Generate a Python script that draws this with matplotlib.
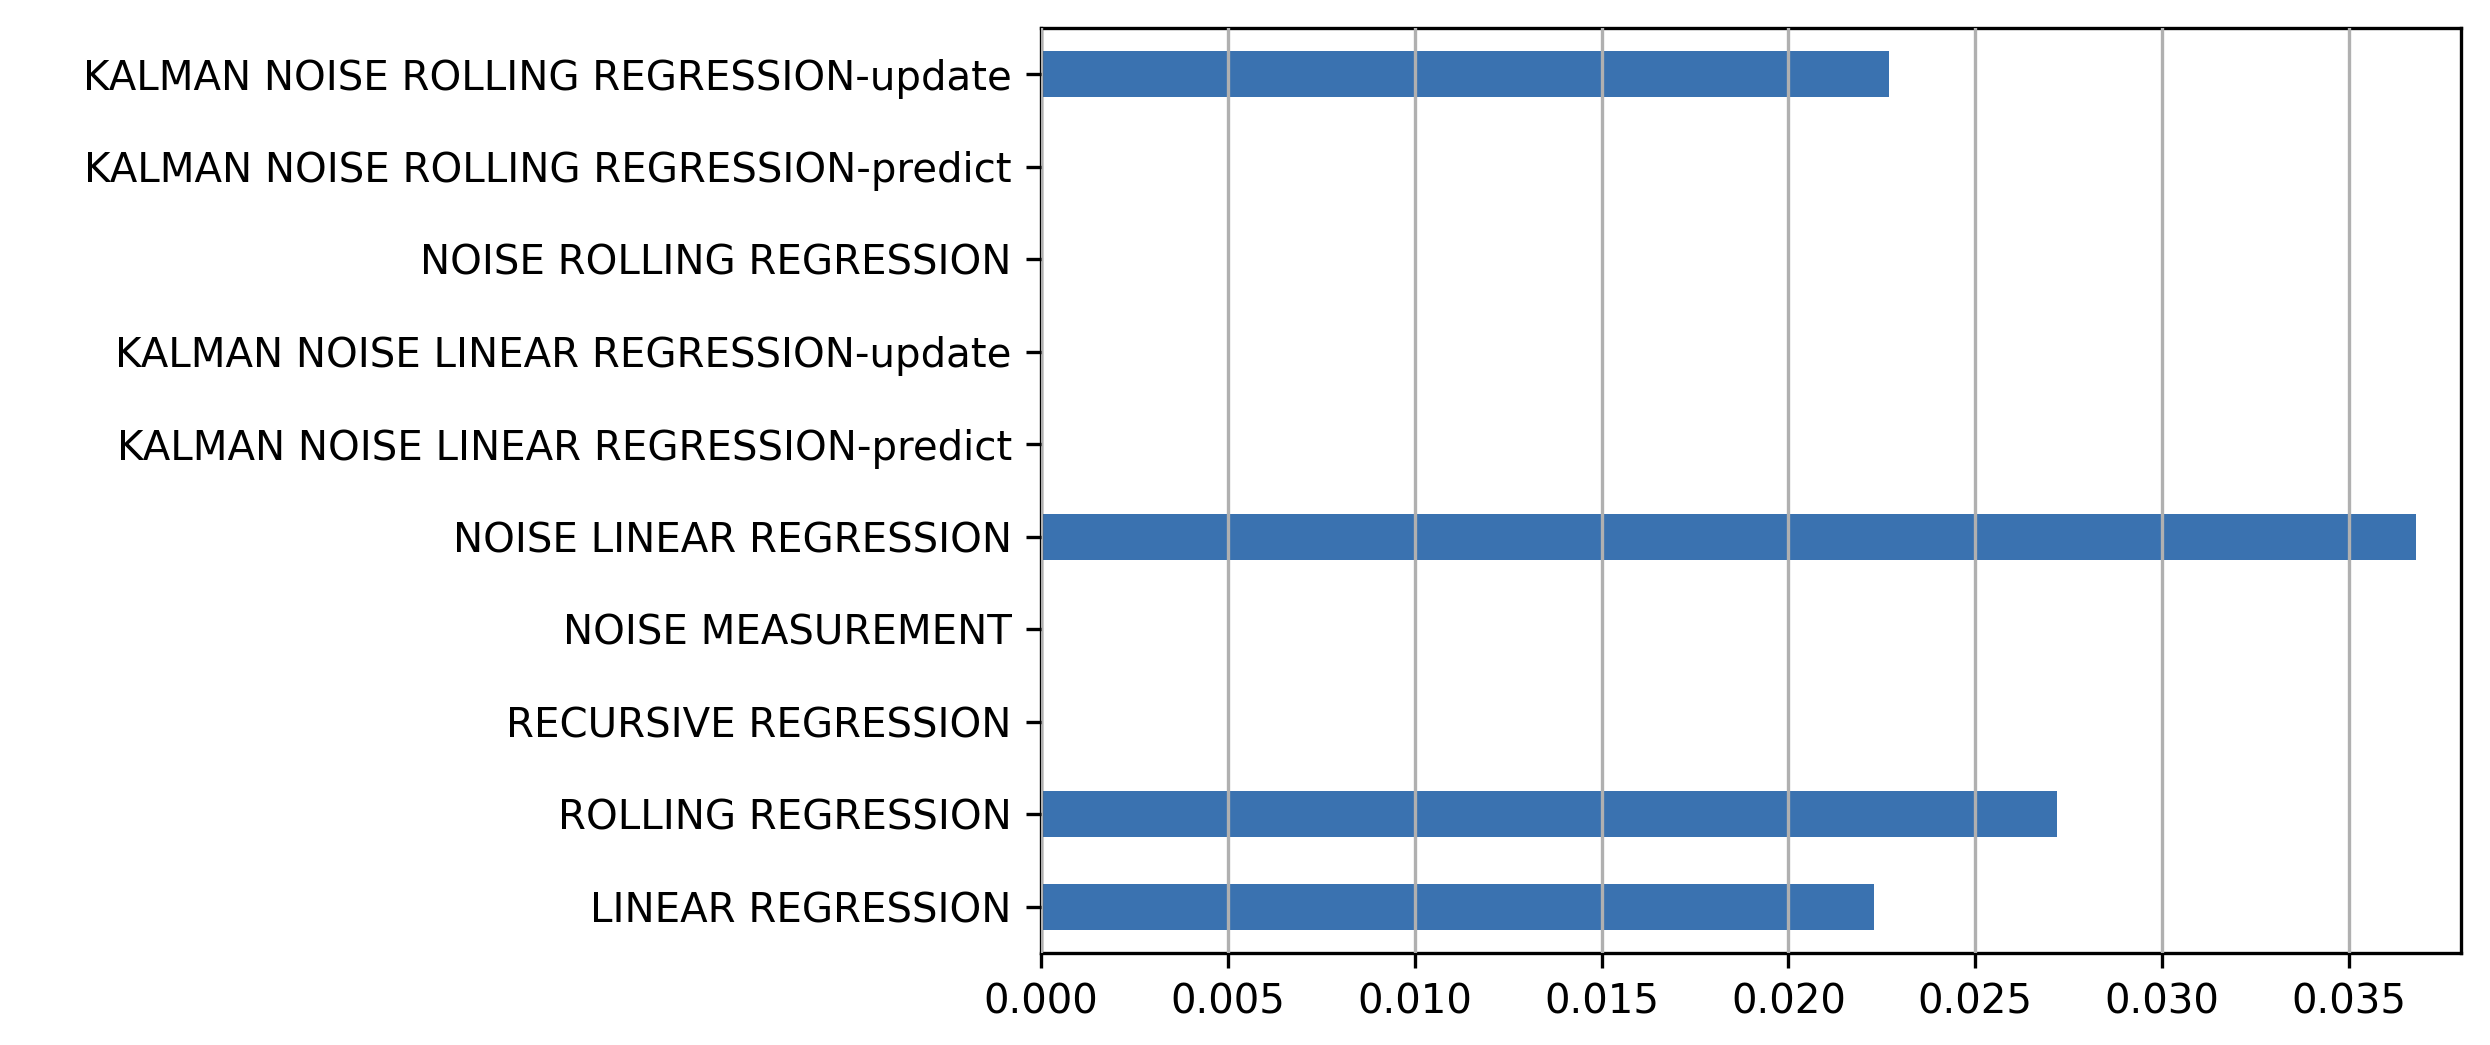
import matplotlib
matplotlib.use('Agg')
import matplotlib.pyplot as plt

labels = ['LINEAR REGRESSION', 'ROLLING REGRESSION', 'RECURSIVE REGRESSION',
          'NOISE MEASUREMENT', 'NOISE LINEAR REGRESSION',
          'KALMAN NOISE LINEAR REGRESSION-predict', 'KALMAN NOISE LINEAR REGRESSION-update',
          'NOISE ROLLING REGRESSION', 'KALMAN NOISE ROLLING REGRESSION-predict',
          'KALMAN NOISE ROLLING REGRESSION-update']
values = [0.0223, 0.0272, 0.0, 0.0, 0.0368, 0.0, 0.0, 0.0, 0.0, 0.0227]

fig = plt.figure(figsize=(24.9, 10.45), dpi=100)
# axes box in pixels: left 1041, right 2461, top 28, bottom 953
ax = fig.add_axes([1041 / 2490, (1045 - 953) / 1045, 1420 / 2490, 925 / 1045])
ax.barh(range(len(labels)), values, height=0.5, color='#3a72b0', zorder=2)
ax.set_yticks(range(len(labels)))
ax.set_yticklabels(labels)
ax.set_xlim(0, 0.038)
ax.set_ylim(-0.5, len(labels) - 0.5)
ax.xaxis.grid(True, color='#b0b0b0', linewidth=2.4, zorder=3)
ax.set_axisbelow(False)
ax.tick_params(labelsize=29, length=11, width=2.4, pad=10)
for s in ax.spines.values():
    s.set_linewidth(2.4)

fig.savefig('out.png', dpi=100)
